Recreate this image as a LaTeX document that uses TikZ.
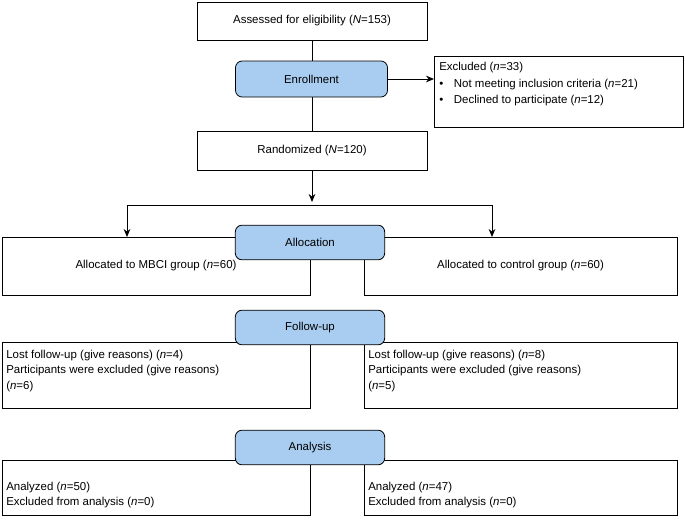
\documentclass[tikz,border=0pt]{standalone}
\usepackage{fontspec}
\setmainfont{Liberation Sans}
\usetikzlibrary{arrows.meta}
\definecolor{stage}{HTML}{A9CDF0}
\begin{document}
\begin{tikzpicture}[x=0.75pt,y=-0.75pt,
  box/.style={draw=black,line width=0.6pt,fill=white},
  stagebox/.style={draw=black,line width=0.6pt,fill=stage,rounded corners=5pt},
  ln/.style={line width=0.6pt},
  arr/.style={ln,-{Stealth[length=6pt,width=5pt]}},
  every node/.style={font=\fontsize{8.6}{11.5}\selectfont}]
\useasboundingbox (0,0) rectangle (685,519);
% boxes
\draw[box] (197,2) rectangle (427,40) node[midway] (assess) {Assessed for eligibility (\textit{N}=153)};
\draw[box] (197,131) rectangle (427,170) node[midway] (rand) {Randomized (\textit{N}=120)};
\draw[box] (434,56) rectangle (683,127);
\node[anchor=north west,align=left,inner sep=0pt] (excl) at (439,62) {Excluded (\textit{n}=33)\\[1pt]
\textbullet\hspace{8pt}Not meeting inclusion criteria (\textit{n}=21)\\[1pt]
\textbullet\hspace{8pt}Declined to participate (\textit{n}=12)};
% spine
\coordinate (assessB) at (312,40);
\coordinate (randT) at (312,131);
\draw[ln] (assessB) -- (randT);
\coordinate (exA) at (312,79);
\coordinate (exB) at (434,79);
\draw[arr] (exA) -- (exB);
\node[stagebox,minimum width=114pt,minimum height=27pt] (enr) at (311.5,79) {Enrollment};
% randomization split
\coordinate (randB) at (312,170);
\draw[arr] (randB) -- (312,202);
\coordinate (sl) at (127,205);
\coordinate (sr) at (492,205);
\draw[ln] (sl) -- (sr);
\draw[arr] (sl) -- (127,237);
\draw[arr] (sr) -- (492,237);
% allocation
\draw[box] (2,237) rectangle (310,295) node[midway] (la) {Allocated to MBCI group (\textit{n}=60)};
\draw[box] (364,237) rectangle (677,295) node[midway] (ra) {Allocated to control group (\textit{n}=60)};
\node[stagebox,minimum width=112pt,minimum height=26pt] (alloc) at (310,242.5) {Allocation};
% follow-up
\draw[box] (2,342) rectangle (310,408);
\node[anchor=north west,align=left,inner sep=0pt] (lf) at (6,350) {Lost follow-up (give reasons) (\textit{n}=4)\\Participants were excluded (give reasons)\\(\textit{n}=6)};
\draw[box] (364,342) rectangle (677,408);
\node[anchor=north west,align=left,inner sep=0pt] (rf) at (368,350) {Lost follow-up (give reasons) (\textit{n}=8)\\Participants were excluded (give reasons)\\(\textit{n}=5)};
\node[stagebox,minimum width=112pt,minimum height=26pt] (fu) at (310,327.5) {Follow-up};
% analysis
\draw[box] (2,460) rectangle (310,515);
\node[anchor=north west,align=left,inner sep=0pt] (lan) at (6,482) {Analyzed (\textit{n}=50)\\Excluded from analysis (\textit{n}=0)};
\draw[box] (364,460) rectangle (677,515);
\node[anchor=north west,align=left,inner sep=0pt] (ran) at (368,482) {Analyzed (\textit{n}=47)\\Excluded from analysis (\textit{n}=0)};
\node[stagebox,minimum width=112pt,minimum height=26pt] (an) at (310,447.5) {Analysis};
\end{tikzpicture}
\end{document}
